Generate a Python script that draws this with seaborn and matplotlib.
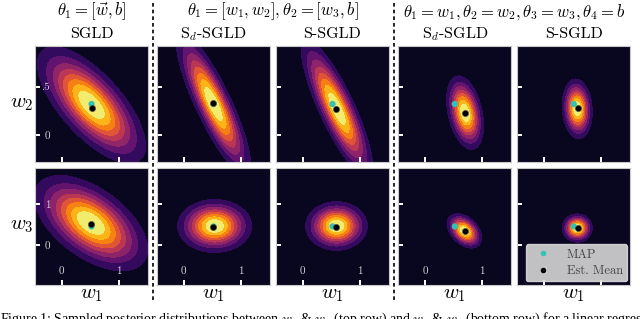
import numpy as np
import pandas as pd
import matplotlib
matplotlib.use("Agg")
import matplotlib.pyplot as plt
import seaborn as sns
from matplotlib.lines import Line2D

plt.rcParams['font.family'] = ['cmr10', 'DejaVu Serif']
plt.rcParams['mathtext.fontset'] = 'cm'
plt.rcParams['axes.unicode_minus'] = False
plt.rcParams['axes.formatter.use_mathtext'] = True

# ---------------- data ----------------
methods = ["SGLD", r"S$_{d}$-SGLD", "S-SGLD", r"S$_{d}$-SGLD", "S-SGLD"]
group_titles = [r"$\theta_1=[\vec{w},b]$",
                r"$\theta_1=[w_1,w_2],\theta_2=[w_3,b]$",
                r"$\theta_1=w_1,\theta_2=w_2,\theta_3=w_3,\theta_4=b$"]
row_ylabels = [r"$w_2$", r"$w_3$"]
xlabel = r"$w_1$"

# top row: posterior over (w1, w2)
top_cx = [0.52, 0.52, 0.60, 0.70, 0.58]
top_cy = [0.31, 0.32, 0.27, 0.23, 0.27]
top_sx = [0.44, 0.30, 0.29, 0.15, 0.122]
top_sy = [0.28, 0.34, 0.33, 0.176, 0.143]
top_rho = [-0.70, -0.85, -0.84, -0.35, -0.10]
# bottom row: posterior over (w1, w3)
bot_cx = [0.51, 0.54, 0.59, 0.69, 0.58]
bot_cy = [0.54, 0.47, 0.47, 0.35, 0.42]
bot_sx = [0.46, 0.30, 0.25, 0.14, 0.122]
bot_sy = [0.54, 0.30, 0.275, 0.194, 0.16]
bot_rho = [-0.55, 0.0, 0.0, -0.40, 0.0]

map_top = [0.52, 0.32]
map_bot = [0.52, 0.46]
mean_top_x = [0.52, 0.51, 0.59, 0.70, 0.59]
mean_top_y = [0.275, 0.33, 0.265, 0.23, 0.28]
mean_bot_x = [0.51, 0.51, 0.58, 0.69, 0.59]
mean_bot_y = [0.53, 0.45, 0.45, 0.35, 0.41]

x_ticks = [0, 1]
x_ticklabels = ["0", "1"]
top_yticks = [0, 0.5]
top_yticklabels = ["0", ".5"]
bot_yticks = [0, 1]
bot_yticklabels = ["0", "1"]

caption = (r"Figure 1: Sampled posterior distributions between $w_1$ & $w_2$ (top row) "
           r"and $w_1$ & $w_3$ (bottom row) for a linear regression")


def density_points(cx, cy, sx, sy, rho, n=46, r=3.6):
    z = np.linspace(-r, r, n)
    z1, z2 = np.meshgrid(z, z)
    z1 = z1.ravel()
    z2 = z2.ravel()
    x = cx + sx * z1
    y = cy + sy * (rho * z1 + np.sqrt(1 - rho ** 2) * z2)
    w = np.exp(-0.5 * (z1 ** 2 + z2 ** 2))
    return pd.DataFrame(dict(x=x, y=y, w=w))


W, H = 640, 319
fig = plt.figure(figsize=(W / 100, H / 100), dpi=100)

lefts = [35, 157, 276, 398.3, 517.3]
pw = 113
rows = [(46, 162), (168.3, 284.5)]
xlim = (-0.47, 1.51)
ylims = [(-0.28, 0.92), (-0.96, 1.88)]

cyan = "#33c2b5"

params = [(top_cx, top_cy, top_sx, top_sy, top_rho),
          (bot_cx, bot_cy, bot_sx, bot_sy, bot_rho)]
maps = [map_top, map_bot]
means = [(mean_top_x, mean_top_y), (mean_bot_x, mean_bot_y)]
yticks = [top_yticks, bot_yticks]
yticklabels = [top_yticklabels, bot_yticklabels]

axes = [[None] * 5, [None] * 5]
for r, (t, b) in enumerate(rows):
    cx, cy, sx, sy, rho = params[r]
    for c in range(5):
        ax = fig.add_axes([lefts[c] / W, 1 - b / H, pw / W, (b - t) / H])
        axes[r][c] = ax
        df = density_points(cx[c], cy[c], sx[c], sy[c], rho[c])
        sns.kdeplot(data=df, x="x", y="y", weights="w", fill=True, levels=10,
                    thresh=0, cmap="inferno", bw_adjust=0.7, gridsize=110, ax=ax)
        # background = lowest filled band colour
        fc = ax.collections[0].get_facecolor()
        if len(fc):
            ax.set_facecolor(fc[0])
        ax.scatter([maps[r][0]], [maps[r][1]], s=20, color=cyan, edgecolor="none", zorder=5)
        ax.scatter([means[r][0][c]], [means[r][1][c]], s=20, color="black",
                   edgecolor="#555555", linewidth=0.4, zorder=6)
        ax.set_xlim(*xlim)
        ax.set_ylim(*ylims[r])
        ax.set_xlabel("")
        ax.set_ylabel("")
        ax.set_xticks(x_ticks)
        ax.set_yticks(yticks[r])
        if r == 1:
            ax.set_xticklabels(x_ticklabels)
        else:
            ax.set_xticklabels([])
        if c == 0:
            ax.set_yticklabels(yticklabels[r])
        else:
            ax.set_yticklabels([])
        ax.tick_params(axis="both", direction="in", length=3.5, width=1.4,
                       color="white", labelcolor="#d4d4d4", labelsize=8,
                       bottom=True, left=True, top=False, right=False)
        ax.tick_params(axis="x", pad=-13)
        ax.tick_params(axis="y", pad=-11)
        for sp in ax.spines.values():
            sp.set_color("#c8c8c8")
            sp.set_linewidth(0.8)

# legend
handles = [Line2D([], [], marker="o", ls="none", ms=4, color=cyan, mec="none"),
           Line2D([], [], marker="o", ls="none", ms=4, color="black", mec="none")]
leg = axes[1][4].legend(handles, ["MAP", "Est. Mean"], loc="lower right", fontsize=9,
                        frameon=True, facecolor="#dcdcdc", edgecolor="#dcdcdc",
                        framealpha=0.88, borderaxespad=0.25, handletextpad=0.9,
                        borderpad=0.35, labelspacing=0.35)
for txt in leg.get_texts():
    txt.set_color("#444444")

# titles
centers = [l + pw / 2 for l in lefts]
group_x = [centers[0], (lefts[1] + lefts[2] + pw) / 2, (lefts[3] + lefts[4] + pw) / 2]
for gx, gt in zip(group_x, group_titles):
    fig.text(gx / W, 1 - 11.5 / H, gt, ha="center", va="center", fontsize=12)
for cxp, m in zip(centers, methods):
    fig.text(cxp / W, 1 - 34 / H, m, ha="center", va="center", fontsize=11.5)
for (t, b), yl in zip(rows, row_ylabels):
    fig.text(22 / W, 1 - ((t + b) / 2) / H, yl, ha="center", va="center", fontsize=15)
for cxp in centers:
    fig.text(cxp / W, 1 - 295 / H, xlabel, ha="center", va="center", fontsize=15)

# dashed separators
for xs in [153.3, 394]:
    fig.add_artist(Line2D([xs / W, xs / W], [1 - 300 / H, 1.0], transform=fig.transFigure,
                          color="black", lw=1.2, ls=(0, (2.2, 1.8))))

fig.text(0, 1 - 311 / H, caption, ha="left", va="top", fontsize=10,
         family=["Liberation Serif", "DejaVu Serif"])

fig.savefig("out.png", dpi=100, facecolor="white")
